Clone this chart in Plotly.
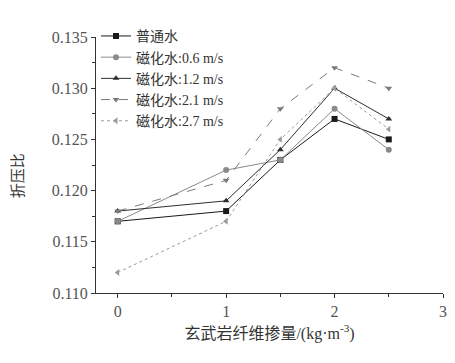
import plotly.graph_objects as go

x_vals = [0, 1, 1.5, 2, 2.5]
names = ["普通水", "磁化水:0.6 m/s", "磁化水:1.2 m/s", "磁化水:2.1 m/s", "磁化水:2.7 m/s"]
s_plain = [0.117, 0.118, 0.123, 0.127, 0.125]
s_06 = [0.117, 0.122, 0.123, 0.128, 0.124]
s_12 = [0.118, 0.119, 0.124, 0.130, 0.127]
s_21 = [0.118, 0.121, 0.128, 0.132, 0.130]
s_27 = [0.112, 0.117, 0.125, 0.130, 0.126]
y_title = "折压比"
x_title = "玄武岩纤维掺量/(kg·m<sup>-3</sup>)"

series = [s_plain, s_06, s_12, s_21, s_27]
symbols = ["square", "circle", "triangle-up", "triangle-down", "triangle-left"]
colors = ["#1a1a1a", "#8a8a8a", "#2e2e2e", "#7a7a7a", "#9a9a9a"]
dashes = ["solid", "solid", "solid", "dash", "dot"]

font_main = "Times New Roman, Liberation Serif, Noto Sans CJK SC, serif"

fig = go.Figure()
for n, s, sym, c, d in zip(names, series, symbols, colors, dashes):
    fig.add_trace(go.Scatter(
        x=x_vals, y=s, name=n, mode="lines+markers",
        line=dict(color=c, width=1, dash=d),
        marker=dict(symbol=sym, size=6, color=c),
    ))

fig.add_annotation(text=y_title, xref="paper", yref="paper", x=-0.225, y=0.46,
                   textangle=-90, showarrow=False, xanchor="center", yanchor="middle",
                   font=dict(size=15, color="#333"))

fig.update_layout(
    width=455, height=363,
    margin=dict(l=88, r=20, t=25, b=78),
    paper_bgcolor="white", plot_bgcolor="white",
    font=dict(family=font_main, size=15, color="#444"),
    showlegend=True,
    legend=dict(x=0.0, y=1.065, xanchor="left", yanchor="top",
                bgcolor="rgba(0,0,0,0)", font=dict(size=14, color="#333"),
                tracegroupgap=0, itemwidth=30),
    xaxis=dict(range=[-0.2, 3], tickvals=[0, 1, 2, 3], showgrid=False, zeroline=False,
               automargin=False,
               showline=True, linecolor="#333", linewidth=1, ticks="outside", ticklen=4,
               tickcolor="#333", minor=dict(tickvals=[0.5, 1.5, 2.5], ticks="outside", ticklen=3, tickcolor="#333"),
               title=dict(text=x_title, standoff=8, font=dict(size=16, color="#333")),
               tickfont=dict(size=16, color="#555")),
    yaxis=dict(range=[0.110, 0.135], tickvals=[0.110, 0.115, 0.120, 0.125, 0.130, 0.135],
               tickformat=".3f", showgrid=False, zeroline=False, automargin=False,
               showline=True, linecolor="#333", linewidth=1, ticks="outside", ticklen=4,
               tickcolor="#333", minor=dict(tickvals=[0.1125, 0.1175, 0.1225, 0.1275, 0.1325], ticks="outside", ticklen=3, tickcolor="#333"),
               tickfont=dict(size=16, color="#555")),
)

fig.write_html("out.html")
